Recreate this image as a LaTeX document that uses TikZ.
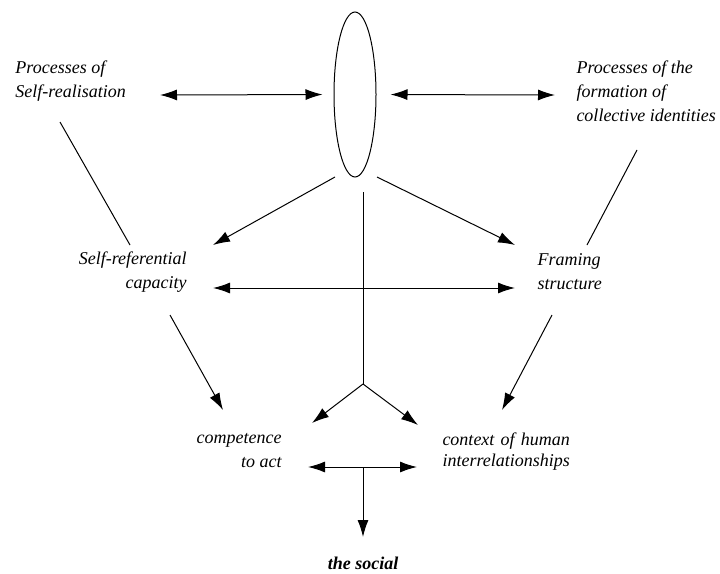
\documentclass[tikz,border=0pt]{standalone}
\usepackage{fontspec}
\setmainfont{Liberation Serif}
\usetikzlibrary{shapes.geometric, arrows.meta}

\begin{document}
\begin{tikzpicture}[x=1pt, y=-1pt, line width=1pt,
    lbl/.style={inner sep=0pt, font=\itshape\fontsize{18}{24}\selectfont},
    arr/.style={-{Latex[length=17pt,width=11pt]}},
    darr/.style={{Latex[length=17pt,width=11pt]}-{Latex[length=17pt,width=11pt]}}]
    \useasboundingbox (0,0) rectangle (720,573);

    % the individual
    \node[ellipse, draw, minimum width=42pt, minimum height=165pt, inner sep=0pt] (ell) at (355,94.5) {};

    % labels
    \node[lbl, anchor=west, align=left] (psr) at (15,81) {Processes of\\Self-realisation};
    \node[lbl, anchor=west, align=left] (pfci) at (576,91) {Processes of the\\formation of\\collective identities};
    \node[lbl, anchor=east, align=right] (src) at (187,272) {Self-referential\\capacity};
    \node[lbl, anchor=west, align=left] (fs) at (537,272) {Framing\\structure};
    \node[lbl, anchor=east, align=right] (cta) at (282,451) {competence\\to act};
    \node[lbl, anchor=west] (chi) at (442,451) {\begin{tabular}{@{}l@{}}context\hfill of\hfill human\\[-3pt]interrelationships\end{tabular}};
    \node[lbl, font=\bfseries\itshape\fontsize{18}{24}\selectfont] (soc) at (363,563) {the social};

    % arrow ends
    \coordinate (psr-r) at (160,95);
    \coordinate (pfci-l) at (555,95);
    \coordinate (psr-b) at (60,122);
    \coordinate (src-t) at (130,245);
    \coordinate (pfci-b) at (637,150);
    \coordinate (fs-t) at (587,245);
    \coordinate (ell-bl) at (335,177);
    \coordinate (ell-br) at (377,177);
    \coordinate (src-tr) at (213,245);
    \coordinate (fs-tl) at (515,245);
    \coordinate (src-r) at (213,288);
    \coordinate (fs-l) at (515,288);
    \coordinate (src-b) at (170,315);
    \coordinate (fs-b) at (552,315);
    \coordinate (cta-t) at (223,410);
    \coordinate (chi-t) at (502,410);
    \coordinate (ell-b) at (363,192);
    \coordinate (jn) at (363,384);
    \coordinate (cta-tr) at (312,423);
    \coordinate (chi-tl) at (418,425);
    \coordinate (cta-r) at (308,467);
    \coordinate (chi-l) at (417,467);
    \coordinate (mid) at (363,467);
    \coordinate (soc-t) at (363,537);

    % connectors
    \draw[darr, shorten >=11pt] (psr-r) -- (ell.west);
    \draw[darr, shorten <=14pt] (ell.east) -- (pfci-l);
    \draw (psr-b) -- (src-t);
    \draw (pfci-b) -- (fs-t);
    \draw[arr] (ell-bl) -- (src-tr);
    \draw[arr] (ell-br) -- (fs-tl);
    \draw[darr] (src-r) -- (fs-l);
    \draw[arr] (src-b) -- (cta-t);
    \draw[arr] (fs-b) -- (chi-t);
    \draw (ell-b) -- (jn);
    \draw[arr] (jn) -- (cta-tr);
    \draw[arr] (jn) -- (chi-tl);
    \draw[darr] (cta-r) -- (chi-l);
    \draw[arr] (mid) -- (soc-t);
\end{tikzpicture}
\end{document}
